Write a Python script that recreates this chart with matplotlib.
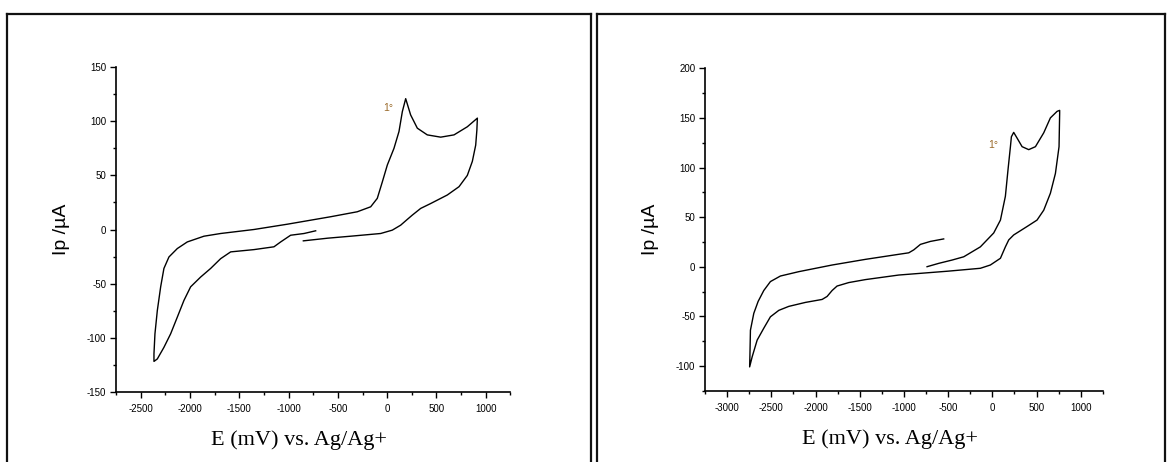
import matplotlib
matplotlib.use('Agg')
import matplotlib.pyplot as plt
from matplotlib.ticker import MultipleLocator
from matplotlib.lines import Line2D

plt.rcParams['font.family'] = ['Liberation Sans', 'DejaVu Sans']
plt.rcParams['axes.unicode_minus'] = False

# ---- data: cyclic voltammograms (E in mV, Ip in uA) ----
left_E = [-850, -600, -370, -66, 52, 137, 200, 255, 340, 441, 610, 729, 813, 864, 898, 910, 915,
          813, 678, 543, 407, 306, 238, 188, 154, 120, 69, 2, -49, -100, -167, -303, -573,
          -1012, -1351, -1689, -1858, -2027, -2128, -2213, -2264, -2297, -2331, -2355, -2365, -2365,
          -2331, -2264, -2196, -2128, -2061, -1993, -1892, -1790, -1689, -1587, -1351, -1148,
          -1080, -979, -843, -725]
left_I = [-10.5, -8, -6.2, -3.7, -0.6, 4, 9, 13.3, 19.5, 24, 31.9, 39.6, 50, 63, 78, 92, 103,
          95, 87.5, 85.4, 87.5, 93.7, 106, 121, 109, 90.6, 75, 59.7, 44, 28.8, 21, 16.4, 11.8,
          4.9, 0, -3.7, -6.2, -11.5, -17.6, -25.4, -36, -53, -75, -96.5, -115, -122,
          -119.7, -109, -96.5, -81, -65.6, -53, -44, -36, -27, -20.7, -18.6, -16,
          -11.5, -5.3, -3.7, -1.2]

right_E = [-738, -605, -455, -323, -135, 16, 92, 148, 178, 205, 216, 242, 280, 337, 412, 488,
           582, 657, 733, 762,
           762, 755, 714, 657, 582, 506, 393, 242, 186, 148, 92, -22, -135, -500, -1058, -1435,
           -1624, -1756, -1812, -1869, -1925, -2114, -2302, -2415, -2510, -2585, -2660, -2717,
           -2745,
           -2742, -2736, -2698, -2649, -2585, -2510, -2397, -2189, -1812, -1435, -1058, -945,
           -888, -813, -700, -550]
right_I = [0, 3.4, 6.7, 10, 20, 34, 47, 71, 98, 121, 131, 135.4, 129.7, 121, 118, 121,
           135, 150, 156.6, 157.6,
           155, 121, 94, 74, 57, 47, 40.5, 32, 27, 20, 8.5, 1.7, -1.6, -4.5, -8.4, -13,
           -16, -19.5, -24, -30, -33, -36, -40, -44, -50.5, -62, -74, -91,
           -101,
           -90, -64, -47, -35, -24, -15, -9.4, -5, 1.7, 7.4, 12.5, 14,
           17, 22.5, 25.5, 28]

peak_label = '1°'
left_peak_pos = (9, 112)
right_peak_pos = (9, 123)

W, H = 1172, 462
fig = plt.figure(figsize=(W / 100, H / 100), dpi=100)
fig.patch.set_facecolor('white')


def px(x, y):
    return x / W, 1 - y / H


# ---- panel frames ----
frame_kw = dict(color='#111111', linewidth=1.6, transform=fig.transFigure)
for (x0, x1) in [(7, 591), (597, 1165)]:
    xa, ya = px(x0, 14)
    xb, yb = px(x1, 470)
    fig.add_artist(Line2D([xa, xb], [ya, ya], **frame_kw))
    fig.add_artist(Line2D([xa, xa], [ya, yb], **frame_kw))
    fig.add_artist(Line2D([xb, xb], [ya, yb], **frame_kw))


def style_axes(ax, xlim, ylim):
    ax.set_xlim(*xlim)
    ax.set_ylim(*ylim)
    for s in ['top', 'right']:
        ax.spines[s].set_visible(False)
    for s in ['left', 'bottom']:
        ax.spines[s].set_linewidth(1.2)
    ax.xaxis.set_major_locator(MultipleLocator(500))
    ax.xaxis.set_minor_locator(MultipleLocator(250))
    ax.yaxis.set_major_locator(MultipleLocator(50))
    ax.yaxis.set_minor_locator(MultipleLocator(25))
    ax.tick_params(which='major', direction='out', length=4, width=1, labelsize=7)
    ax.tick_params(axis='x', which='major', pad=5)
    ax.tick_params(axis='y', which='major', pad=3)
    ax.tick_params(which='minor', direction='out', length=2.5, width=1)
    ax.set_ylabel('Ip /µA', fontsize=14, labelpad=12)
    ax.set_xlabel('E (mV) vs. Ag/Ag+', fontsize=16, family='Liberation Serif', labelpad=10)
    ax.xaxis.set_label_coords(0.465, -0.12)


# ---- left panel ----
ax1 = fig.add_axes([116 / W, 1 - 391.7 / H, 394.4 / W, 324.4 / H])
ax1.plot(left_E, left_I, color='black', linewidth=1.0)
style_axes(ax1, (-2750, 1250), (-150, 150))
ax1.text(*left_peak_pos, peak_label, fontsize=7.5, color='#9a6a2a', ha='center', va='center')

# ---- right panel ----
ax2 = fig.add_axes([705 / W, 1 - 390.7 / H, 397.8 / W, 322.4 / H])
ax2.plot(right_E, right_I, color='black', linewidth=1.0)
style_axes(ax2, (-3250, 1250), (-125, 200))
ax2.text(*right_peak_pos, peak_label, fontsize=7.5, color='#9a6a2a', ha='center', va='center')

fig.savefig('out.png', dpi=100, facecolor='white')
